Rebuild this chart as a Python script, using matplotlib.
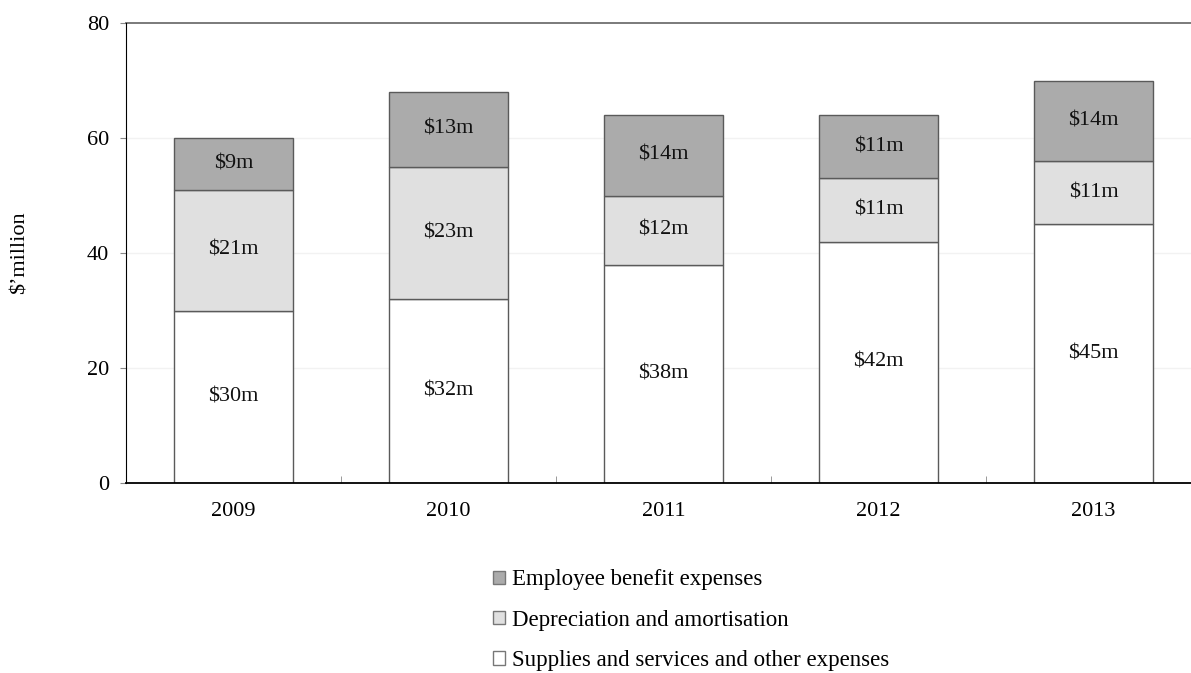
import numpy as np
import matplotlib.pyplot as plt

years = ['2009', '2010', '2011', '2012', '2013']
supplies = [30, 32, 38, 42, 45]
depreciation = [21, 23, 12, 11, 11]
employee = [9, 13, 14, 11, 14]

series = [
    ('Supplies and services and other expenses', supplies, '#ffffff'),
    ('Depreciation and amortisation', depreciation, '#e0e0e0'),
    ('Employee benefit expenses', employee, '#ababab'),
]

plt.rcParams['font.family'] = ['Liberation Serif', 'DejaVu Serif']

fig = plt.figure(figsize=(11.91, 6.73), dpi=100)
ax = fig.add_axes([126 / 1191, 1 - 483 / 673, 1075 / 1191, 460 / 673])

x = np.arange(len(years))
bottom = np.zeros(len(years))
handles = []
for name, vals, col in series:
    vals = np.array(vals, dtype=float)
    b = ax.bar(x, vals, 0.555, bottom=bottom, color=col, edgecolor='#5a5a5a',
               linewidth=1.0, label=name, zorder=2)
    handles.append(b)
    for xi, bi, v in zip(x, bottom, vals):
        ax.text(xi, bi + v / 2, '${:g}m'.format(v), ha='center', va='center',
                fontsize=16, color='#111111', zorder=4)
    bottom += vals

ax.set_xlim(-0.5, 4.5)
ax.set_ylim(0, 80)
ax.set_yticks([0, 20, 40, 60, 80])
ax.set_xticks(x)
ax.set_xticklabels(years)
ax.set_xticks(x[:-1] + 0.5, minor=True)
ax.tick_params(axis='x', which='major', length=0, labelsize=16, pad=14)
ax.tick_params(axis='x', which='minor', direction='in', length=5, color='#888888')
ax.tick_params(axis='y', length=4, color='#888888', labelsize=16, pad=8)

for yv in [20, 40, 60]:
    ax.axhline(yv, color='#f2f2f2', linewidth=1.0, zorder=1)
ax.axhline(80, color='#707070', linewidth=1.3, zorder=2, clip_on=False)

for s in ['top', 'right']:
    ax.spines[s].set_visible(False)
ax.spines['left'].set_color('#000000')
ax.spines['bottom'].set_color('#000000')
ax.spines['bottom'].set_linewidth(1.3)
ax.spines['left'].set_zorder(3)
ax.spines['bottom'].set_zorder(3)

fig.text(20 / 1191, 1 - 253 / 673, "$\u2019million", rotation=90, ha='center',
         va='center', fontsize=16)

leg = fig.legend(handles=handles[::-1], loc='upper left',
                 bbox_to_anchor=(484 / 1191, 1 - 560 / 673), frameon=False,
                 fontsize=16.5, handlelength=0.5, handleheight=0.5,
                 handletextpad=0.3, labelspacing=0.85, borderaxespad=0)
for h in leg.legend_handles:
    h.set_edgecolor('#777777')

fig.savefig('out.png', dpi=100)
